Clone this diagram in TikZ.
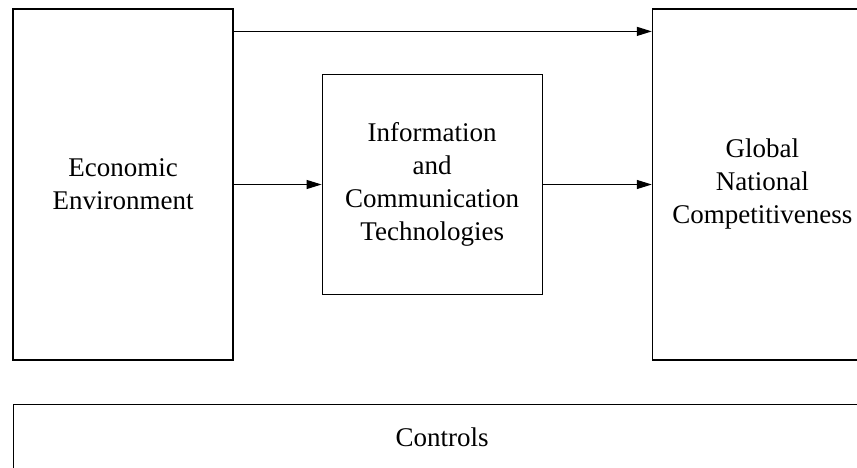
\documentclass[tikz,border=0pt]{standalone}
\usepackage{fontspec}
\setmainfont{Liberation Serif}
\usetikzlibrary{positioning}
\usetikzlibrary{arrows.meta}

\begin{document}
\begin{tikzpicture}[x=1pt,y=-1pt,-,>={Triangle[length=15pt,width=9pt]},line width=1.2pt,block/.style={rectangle,draw,minimum width=220pt,inner sep=0pt,align=center,font=\fontsize{27}{33}\selectfont}]

	\useasboundingbox (0,0) rectangle (857,468);

	%the three blocks of the model, the last one runs off the page
	\begin{scope}
		\node[block,minimum height=351pt] (econ) at (123,184.5) {Economic\\Environment};
		\node[block,minimum height=220pt] (ict) [right=88pt of econ] {Information\\and\\Communication\\Technologies};
		\node[block,minimum height=351pt] (comp) [right=109pt of ict] {Global\\National\\Competitiveness};
	\end{scope}

	%controls band along the bottom
	\node[block,minimum width=857pt,minimum height=66pt,anchor=north west] (ctrl) at (13,404) {Controls};

	%direct and mediated effects
	\path[->]
		([yshift=-23pt]econ.north east) edge ([yshift=-23pt]comp.north west)
		(econ) edge (ict)
		(ict) edge (comp);
\end{tikzpicture}
\end{document}
